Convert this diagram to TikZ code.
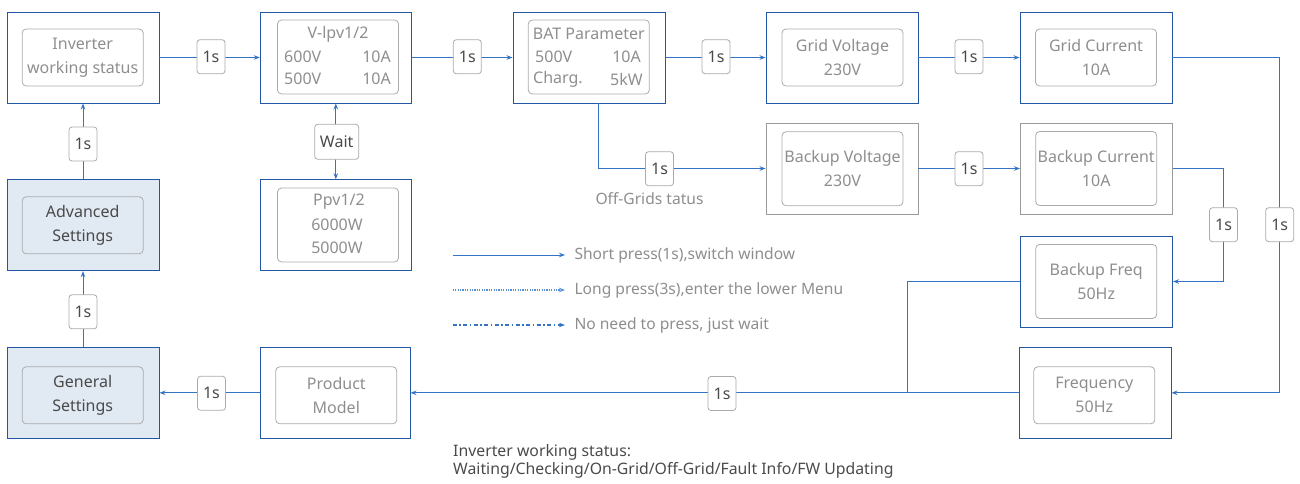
\documentclass[tikz,border=0pt]{standalone}
\usepackage{fontspec}
\setmainfont{Noto Sans}
\usetikzlibrary{arrows.meta,calc}
\definecolor{bblue}{HTML}{2457A3}
\definecolor{lblue}{HTML}{3573C4}
\definecolor{dotblue}{HTML}{5A8FD4}
\definecolor{sfill}{HTML}{E1E9F3}
\definecolor{igray}{HTML}{ABABAB}
\definecolor{ogray}{HTML}{9A9A9A}
\definecolor{tgray}{HTML}{8E8E8E}
\definecolor{tdark}{HTML}{4A4A4A}
\newcommand\boxfont{\fontsize{16}{24}\selectfont}
\newcommand\smallboxfont{\fontsize{16}{22.5}\selectfont}
\begin{document}
\begin{tikzpicture}[x=1pt,y=-1pt,
  outer/.style={draw=bblue, line width=0.9pt, minimum width=152pt, minimum height=91pt, inner sep=0pt},
  outerg/.style={outer, draw=ogray},
  setbox/.style={outer, fill=sfill},
  inner/.style={draw=igray, rounded corners=4pt, line width=0.8pt, minimum width=121pt, minimum height=57pt, inner sep=0pt, align=center, text=tgray, font=\boxfont},
  tall/.style={inner, minimum height=74pt},
  txt/.style={text=tgray, font=\smallboxfont, inner sep=0pt},
  lab/.style={draw=igray, rounded corners=3pt, fill=white, line width=0.8pt, minimum width=28pt, minimum height=34pt, inner sep=0pt, text=tdark, font=\boxfont},
  conn/.style={draw=lblue, line width=1pt},
  tip/.tip={Stealth[length=6pt,width=4.5pt]},
  arr/.style={conn, -tip},
  legtxt/.style={text=tgray, font=\fontsize{15.6}{18}\selectfont, anchor=west, inner sep=0pt}
]
\useasboundingbox (0,0) rectangle (1300,483);

% ---------- outer boxes ----------
\node[outer]  (inv)  at (83,57.5)    {};
\node[outer, minimum width=151pt]  (vlpv) at (335.8,57.5)  {};
\node[outer]  (bat)  at (589,57.5)   {};
\node[outer]  (gv)   at (842,57.5)   {};
\node[outer]  (gi)   at (1096,57.5)  {};
\node[outerg] (bv)   at (842,168.5)  {};
\node[outerg] (bi)   at (1096.5,168.5) {};
\node[setbox] (adv)  at (83,225.2)   {};
\node[outer, minimum width=151pt]  (ppv)  at (335.8,225.2) {};
\node[outer]  (bf)   at (1096.5,281.5) {};
\node[setbox] (gen)  at (83,392.8)   {};
\node[outer, minimum width=150pt]  (prod) at (335,392.8)   {};
\node[outer]  (freq) at (1095,392.8) {};

% ---------- inner boxes ----------
\node[inner] (invi) at (82.7,57.5) {Inverter\\working status};
\node[tall]  (vlpvi) at (338,57) {};
\node[txt] (vt1) at (338,34) {V-lpv1/2};
\node[txt, anchor=west] (vt2) at (284,56.5) {600V};
\node[txt, anchor=east] (vt3) at (391,56.5) {10A};
\node[txt, anchor=west] (vt4) at (284,79) {500V};
\node[txt, anchor=east] (vt5) at (391,79) {10A};
\node[tall]  (bati) at (588.8,57) {};
\node[txt] (bt1) at (588.8,34) {BAT Parameter};
\node[txt, anchor=west] (bt2) at (535,56.5) {500V};
\node[txt, anchor=east] (bt3) at (641,56.5) {10A};
\node[txt, anchor=west] (bt4) at (533,79) {Charg.};
\node[txt, anchor=east] (bt5) at (643,79) {5kW};
\node[inner] (gvi) at (842.5,57.5) {Grid Voltage\\230V};
\node[inner] (gii) at (1096,57.5) {Grid Current\\10A};
\node[tall]  (bvi) at (842.5,168.7) {Backup Voltage\\230V};
\node[tall]  (bii) at (1096.2,168.5) {Backup Current\\10A};
\node[inner, text=tdark] (advi) at (82.7,225.3) {Advanced\\Settings};
\node[tall]  (ppvi) at (338,225) {};
\node[txt] (pt1) at (339,202) {Ppv1/2};
\node[txt] (pt2) at (337,225) {6000W};
\node[txt] (pt3) at (337,248) {5000W};
\node[tall]  (bfi) at (1096.2,281.4) {Backup Freq\\50Hz};
\node[inner, text=tdark] (geni) at (82.7,395.3) {General\\Settings};
\node[inner] (prodi) at (336.3,395.3) {Product\\Model};
\node[inner] (freqi) at (1094.3,395.3) {Frequency\\50Hz};

% ---------- connectors ----------
\coordinate (offx) at (598.3,0);
\coordinate (bix) at (1223.3,0);
\coordinate (gix) at (1279.3,0);
\coordinate (join) at (907.3,392.8);

\draw[arr] (inv.east) -- (vlpv.west);
\draw[arr] (vlpv.east) -- (bat.west);
\draw[arr] (bat.east) -- (gv.west);
\draw[arr] (gv.east) -- (gi.west);
\draw[arr] (bat.south -| offx) |- (bv.west);
\draw[arr] (bv.east) -- (bi.west);
\draw[arr] (bi.east) -| (bix |- bf.east) -- (bf.east);
\draw[arr] (gi.east) -| (gix |- freq.east) -- (freq.east);
\draw[conn] (bf.west) -| (join);
\draw[arr] (freq.west) -- (prod.east);
\draw[arr] (prod.west) -- (gen.east);
\draw[arr] (gen.north) -- (adv.south);
\draw[arr] (adv.north) -- (inv.south);
\draw[conn, tip-tip] (vlpv.south) -- (ppv.north);

% ---------- labels ----------
\node[lab] (l1) at (211,56.7) {1s};
\node[lab] (l2) at (467.3,56.7) {1s};
\node[lab] (l3) at (716,56.7) {1s};
\node[lab] (l4) at (969,56.7) {1s};
\node[lab] (l5) at (659.5,168.7) {1s};
\node[lab] (l6) at (969,168.7) {1s};
\node[lab] (l7) at (1223.5,224.7) {1s};
\node[lab] (l8) at (1279.7,224.7) {1s};
\node[lab] (l9) at (722,393.5) {1s};
\node[lab] (l10) at (211.5,393.3) {1s};
\node[lab] (l11) at (83,311.8) {1s};
\node[lab] (l12) at (83,144) {1s};
\node[lab, minimum width=44pt, minimum height=35pt] (wait) at (336.7,141.8) {Wait};
\node[text=tgray, font=\fontsize{15.6}{18}\selectfont, inner sep=0pt] (offg) at (649.5,199) {Off-Grids tatus};

% ---------- legend ----------
\coordinate (la1) at (452.7,255);
\coordinate (lb1) at (565,255);
\coordinate (la2) at (452.7,290);
\coordinate (lb2) at (565,290);
\coordinate (la3) at (452.7,325);
\coordinate (lb3) at (565,325);
\draw[arr] (la1) -- (lb1);
\draw[conn, draw=dotblue, line width=1.2pt, dash pattern=on 1.2pt off 1.2pt, -tip] (la2) -- (lb2);
\draw[conn, line width=1.2pt, dash pattern=on 4pt off 2.5pt on 1.5pt off 2.5pt, -tip] (la3) -- (lb3);
\node[legtxt] (t1) at (574.3,255) {Short press(1s),switch window};
\node[legtxt] (t2) at (574.3,290) {Long press(3s),enter the lower Menu};
\node[legtxt] (t3) at (574.3,325) {No need to press, just wait};

% ---------- footnote ----------
\node[text=tdark, font=\fontsize{15.8}{18}\selectfont, anchor=north west, align=left, inner sep=0pt] (foot) at (453,444.5)
  {Inverter working status:\\Waiting/Checking/On-Grid/Off-Grid/Fault Info/FW Updating};
\end{tikzpicture}
\end{document}
